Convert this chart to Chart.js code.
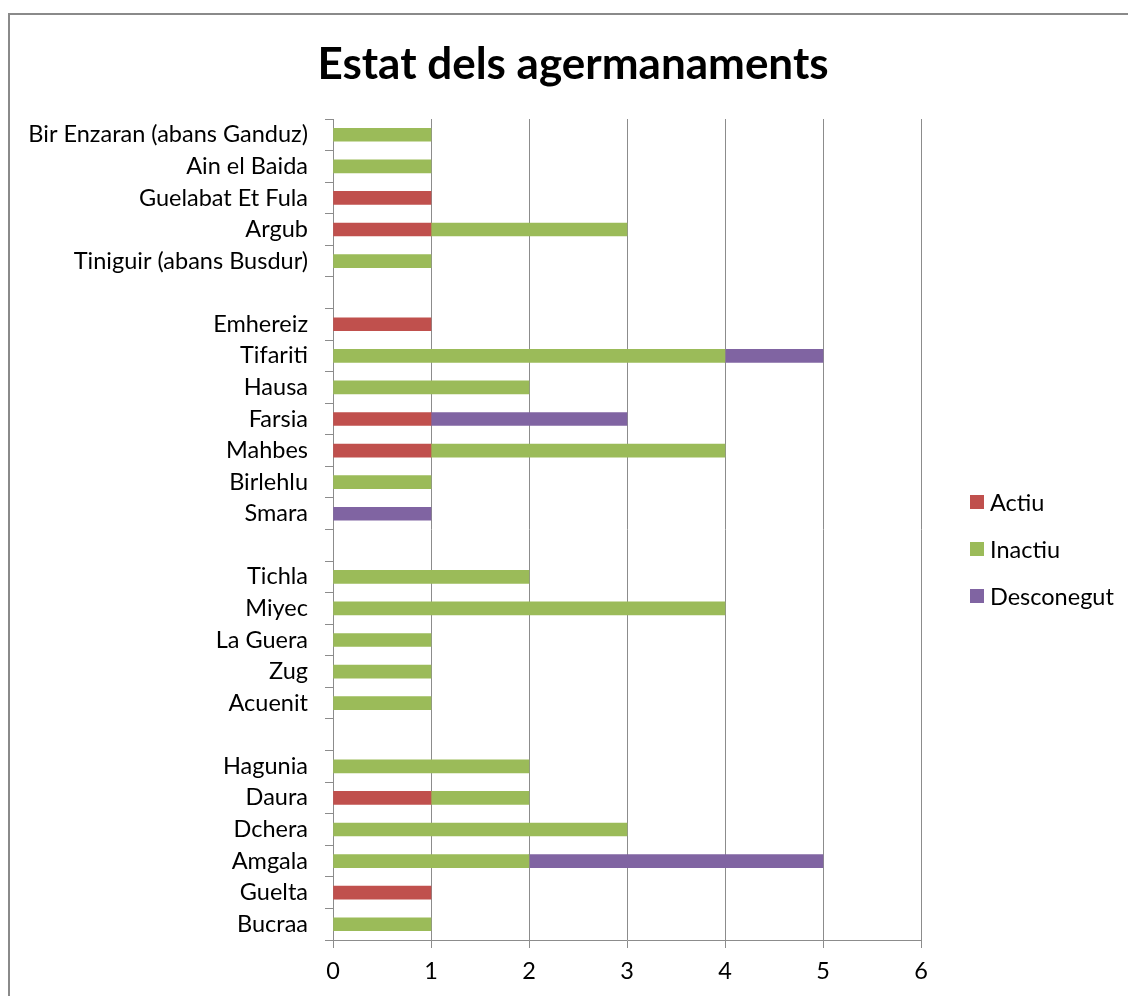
<!DOCTYPE html>
<html>
<head>
<meta charset="utf-8">
<script src="https://cdn.jsdelivr.net/npm/chart.js@4/dist/chart.umd.min.js"></script>
<style>
html,body{margin:0;padding:0;background:#fff;}
#wrap{width:1128px;height:996px;position:relative;}
</style>
</head>
<body>
<div id="wrap"><canvas id="c" width="1128" height="996"></canvas></div>
<script>
const categories = [
  "Bir Enzaran (abans Ganduz)", "Ain el Baida", "Guelabat Et Fula", "Argub", "Tiniguir (abans Busdur)",
  "",
  "Emhereiz", "Tifariti", "Hausa", "Farsia", "Mahbes", "Birlehlu", "Smara",
  "",
  "Tichla", "Miyec", "La Guera", "Zug", "Acuenit",
  "",
  "Hagunia", "Daura", "Dchera", "Amgala", "Guelta", "Bucraa"
];
const actiu =      [null, null, 1, 1, null, null, 1, null, null, 1, 1, null, null, null, null, null, null, null, null, null, null, 1, null, null, 1, null];
const inactiu =    [1, 1, null, 2, 1, null, null, 4, 2, null, 3, 1, null, null, 2, 4, 1, 1, 1, null, 2, 1, 3, 2, null, 1];
const desconegut = [null, null, null, null, null, null, null, 1, null, 2, null, null, 1, null, null, null, null, null, null, null, null, null, null, 3, null, null];
const seriesNames = ["Actiu", "Inactiu", "Desconegut"];
const xTicks = [0, 1, 2, 3, 4, 5, 6];
const titleText = "Estat dels agermanaments";

const colors = ["#C0504D", "#9BBB59", "#8064A2"];
const FONT = "Lato, Carlito, 'Open Sans', sans-serif";
const GRID = "#8c8c8c";

const decor = {
  id: 'decor',
  beforeDraw(chart) {
    const ctx = chart.ctx;
    ctx.save();
    ctx.fillStyle = '#fff';
    ctx.fillRect(0, 0, chart.width, chart.height);
    ctx.restore();
  },
  afterDraw(chart) {
    const ctx = chart.ctx;
    ctx.save();
    // frame
    ctx.strokeStyle = '#8a8a8a';
    ctx.lineWidth = 2;
    ctx.strokeRect(9, 14, 1140, 1000);
    // title
    ctx.fillStyle = '#000';
    ctx.font = "bold 44px " + FONT;
    ctx.textAlign = 'center';
    ctx.textBaseline = 'alphabetic';
    ctx.fillText(titleText, 573, 79);
    // legend
    ctx.font = "23.5px " + FONT;
    ctx.textAlign = 'left';
    ctx.textBaseline = 'middle';
    const ys = [502, 549, 596];
    chart.data.datasets.forEach((ds, i) => {
      ctx.fillStyle = ds.backgroundColor;
      ctx.fillRect(970, ys[i] - 7, 14, 14);
      ctx.fillStyle = '#000';
      ctx.fillText(ds.label, 990, ys[i] + 1);
    });
    ctx.restore();
  }
};

new Chart(document.getElementById('c'), {
  type: 'bar',
  data: {
    labels: categories,
    datasets: [
      { label: seriesNames[0], data: actiu, backgroundColor: colors[0] },
      { label: seriesNames[1], data: inactiu, backgroundColor: colors[1] },
      { label: seriesNames[2], data: desconegut, backgroundColor: colors[2] }
    ]
  },
  options: {
    indexAxis: 'y',
    responsive: false,
    animation: false,
    maintainAspectRatio: false,
    layout: { padding: { left: 10, top: 119, right: 207, bottom: 0 } },
    datasets: { bar: { barThickness: 13 } },
    plugins: {
      legend: { display: false },
      title: { display: false },
      tooltip: { enabled: false }
    },
    scales: {
      x: {
        stacked: true,
        min: 0, max: 6,
        afterBuildTicks(scale) { scale.ticks = xTicks.map(v => ({ value: v })); },
        afterFit(scale) { scale.height = 56; },
        ticks: { color: '#000', font: { size: 23.5, family: FONT }, padding: 9 },
        grid: { color: GRID, lineWidth: 1, tickLength: 8, drawTicks: true },
        border: { color: GRID, width: 1 }
      },
      y: {
        stacked: true,
        afterFit(scale) { scale.width = 323; },
        ticks: { color: '#000', font: { size: 23.5, family: FONT }, padding: 17, autoSkip: false },
        grid: { offset: true, drawOnChartArea: false, color: GRID, tickLength: 8 },
        border: { color: GRID, width: 1 }
      }
    }
  },
  plugins: [decor]
});
</script>
</body>
</html>
